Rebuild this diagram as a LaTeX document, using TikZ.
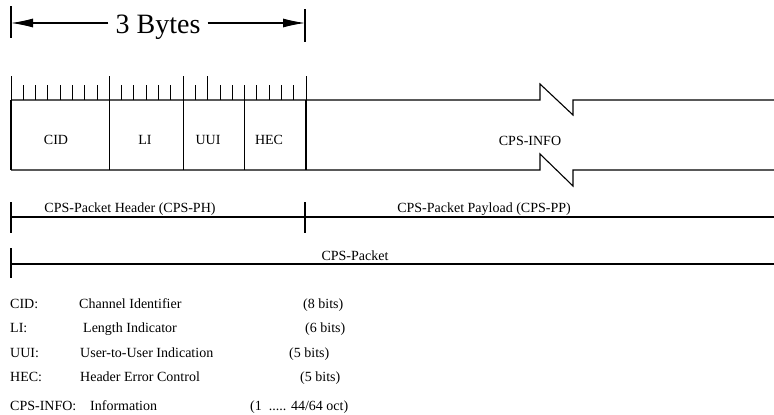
\documentclass[tikz,border=0pt]{standalone}
\usepackage{fontspec}
\setmainfont{Liberation Serif}
\usetikzlibrary{arrows.meta}
\begin{document}
\begin{tikzpicture}[x=1pt,y=-1pt,
  lbl/.style={font=\fontsize{14}{16}\selectfont, inner sep=0pt},
  big/.style={font=\fontsize{28}{32}\selectfont, inner xsep=7pt, inner ysep=0pt},
  frame/.style={line width=1.1pt},
  tick/.style={line width=0.9pt},
  dimarrow/.style={line width=1.1pt, -{Latex[length=22pt,width=9pt]}}]
\useasboundingbox (0,0) rectangle (774,415);

% ---- 3 Bytes dimension
\coordinate (LB1) at (11,6);  \coordinate (LB2) at (11,38);
\coordinate (RB1) at (305,9); \coordinate (RB2) at (305,42);
\draw[frame] (LB1) -- (LB2);
\draw[frame] (RB1) -- (RB2);
\node[big, anchor=base] (bytes) at (158,33) {3 Bytes};
\coordinate (ay) at (0,23);
\draw[dimarrow] (bytes.west |- ay) -- (LB1 |- ay);
\draw[dimarrow] (bytes.east |- ay) -- (RB1 |- ay);

% ---- bit ticks
\foreach \i in {1,2,3,4,5,6,7,9,10,11,12,13,15,17,18,19,20,21,22,23}{
  \pgfmathsetmacro\xx{11+\i*295/24}
  \draw[tick] (\xx,85) -- (\xx,100);
}
\foreach \i in {0,8,14,16,24}{
  \pgfmathsetmacro\xx{11+\i*295/24}
  \draw[tick] (\xx,76) -- (\xx,100);
}
% field boundaries
\foreach \i in {0,8,14,19,24}{
  \pgfmathsetmacro\xx{11+\i*295/24}
  \draw[frame] (\xx,100) -- (\xx,170);
}

% ---- packet outline with break marks
\draw[frame] (11,100) -- (540,100) -- (540,84) -- (573,115) -- (573,100) -- (774,100);
\draw[frame] (11,170) -- (540,170) -- (540,154) -- (573,186) -- (573,170) -- (774,170);

% ---- field labels
\node[lbl, anchor=base] (cid)  at (56,144)  {CID};
\node[lbl, anchor=base] (li)   at (145,144) {LI};
\node[lbl, anchor=base] (uui)  at (208,144) {UUI};
\node[lbl, anchor=base] (hec)  at (269,144) {HEC};
\node[lbl, anchor=base] (info) at (530,145) {CPS-INFO};

% ---- header / payload span
\draw[frame] (11,202) -- (11,233);
\draw[frame] (305,202) -- (305,233);
\draw[frame] (11,217) -- (774,217);
\node[lbl, anchor=base] (ph) at (130,212) {CPS-Packet Header (CPS-PH)};
\node[lbl, anchor=base] (pp) at (484,212) {CPS-Packet Payload (CPS-PP)};

% ---- packet span
\draw[frame] (11,248) -- (11,278);
\draw[frame] (11,264) -- (774,264);
\node[lbl, anchor=base] (pkt) at (355,260) {CPS-Packet};

% ---- legend
\node[lbl, anchor=base west] (k1) at (10,308) {CID:};
\node[lbl, anchor=base west] (d1) at (79,308) {Channel Identifier};
\node[lbl, anchor=base west] (b1) at (303,308) {(8 bits)};
\node[lbl, anchor=base west] (k2) at (10,332) {LI:};
\node[lbl, anchor=base west] (d2) at (83,332) {Length Indicator};
\node[lbl, anchor=base west] (b2) at (305,332) {(6 bits)};
\node[lbl, anchor=base west] (k3) at (10,357) {UUI:};
\node[lbl, anchor=base west] (d3) at (80,357) {User-to-User Indication};
\node[lbl, anchor=base west] (b3) at (289,357) {(5 bits)};
\node[lbl, anchor=base west] (k4) at (10,381) {HEC:};
\node[lbl, anchor=base west] (d4) at (80,381) {Header Error Control};
\node[lbl, anchor=base west] (b4) at (300,381) {(5 bits)};
\node[lbl, anchor=base west] (k5) at (10,410) {CPS-INFO:};
\node[lbl, anchor=base west] (d5) at (90,410) {Information};
\node[lbl, anchor=base west] (b5) at (250,410) {(1 \ ..... 44/64 oct)};
\end{tikzpicture}
\end{document}
